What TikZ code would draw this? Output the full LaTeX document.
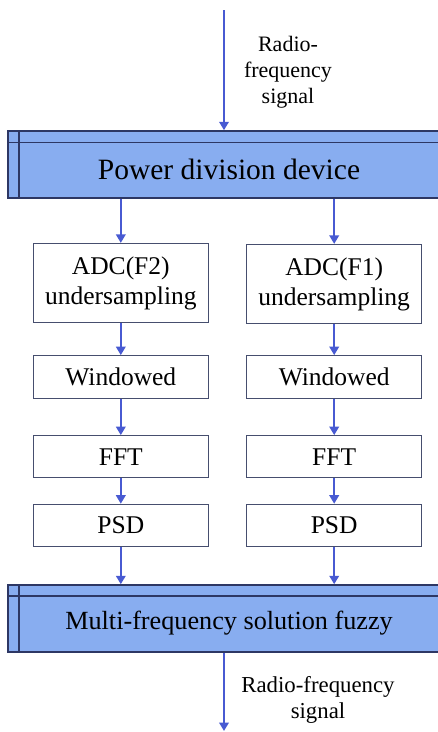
\documentclass[tikz,border=0pt]{standalone}
\usepackage{fontspec}
\setmainfont{Liberation Serif}
\usetikzlibrary{arrows.meta}
\definecolor{flowblue}{RGB}{72,90,210}
\definecolor{barfill}{RGB}{136,173,240}
\definecolor{barline}{RGB}{45,55,100}
\definecolor{boxline}{RGB}{70,78,110}
\tikzset{
  flow/.style={draw=flowblue, line width=2pt, -{Triangle[width=9.5pt,length=8.5pt]}},
  stepbox/.style={draw=boxline, line width=1.2pt, fill=white, minimum width=175pt,
    inner sep=0pt, align=center, font=\fontsize{25.5}{30}\selectfont},
  bar/.style={draw=barline, line width=1.5pt, fill=barfill, minimum width=442pt,
    minimum height=67pt, inner sep=0pt},
  sidelabel/.style={align=center}
}
\begin{document}
\begin{tikzpicture}[x=1pt,y=-1pt]
\useasboundingbox (0,0) rectangle (438,732);
\clip (0,0) rectangle (438,732);

% input signal
\coordinate (in) at (224,10);
\node[sidelabel, font=\fontsize{22}{26}\selectfont] (inlabel) at (288,72) {Radio-\\frequency\\signal};

% power division bar
\node[bar] (power) at (229,164.5) {};
\draw[barline, line width=1.5pt] (power.north west) ++(0,12) -- ++(442,0);
\draw[barline, line width=1.5pt] (power.north west) ++(11.5,0) -- ++(0,67);
\node[font=\fontsize{29.5}{32}\selectfont] (powertext) at (229,169) {Power division device};

% left branch (F2)
\node[stepbox, minimum height=79pt] (adcL) at (120.8,283) {ADC(F2)\\undersampling};
\node[stepbox, minimum height=42.5pt] (winL) at (120.8,377) {Windowed};
\node[stepbox, minimum height=42pt] (fftL) at (120.8,456.7) {FFT};
\node[stepbox, minimum height=42.4pt] (psdL) at (120.8,525.5) {PSD};

% right branch (F1)
\node[stepbox, minimum height=79pt] (adcR) at (334.2,284) {ADC(F1)\\undersampling};
\node[stepbox, minimum height=42.5pt] (winR) at (334.2,377) {Windowed};
\node[stepbox, minimum height=42pt] (fftR) at (334.2,456.7) {FFT};
\node[stepbox, minimum height=42.4pt] (psdR) at (334.2,525.5) {PSD};

% fusion bar
\node[bar] (fuzzy) at (229,618.5) {};
\draw[barline, line width=1.5pt] (fuzzy.north west) ++(0,11.5) -- ++(442,0);
\draw[barline, line width=1.5pt] (fuzzy.north west) ++(11.5,0) -- ++(0,67);
\node[font=\fontsize{26.2}{30}\selectfont] (fuzzytext) at (229,623) {Multi-frequency solution fuzzy};

% output signal
\coordinate (out) at (224,731);
\node[sidelabel, font=\fontsize{22.8}{26}\selectfont] (outlabel) at (318,700) {Radio-frequency\\signal};

% connectors
\draw[flow] (in) -- (in |- power.north);
\draw[flow] (adcL |- power.south) -- (adcL);
\draw[flow] (adcR |- power.south) -- (adcR);
\draw[flow] (adcL) -- (winL);
\draw[flow] (adcR) -- (winR);
\draw[flow] (winL) -- (fftL);
\draw[flow] (winR) -- (fftR);
\draw[flow] (fftL) -- (psdL);
\draw[flow] (fftR) -- (psdR);
\draw[flow] (psdL) -- (psdL |- fuzzy.north);
\draw[flow] (psdR) -- (psdR |- fuzzy.north);
\draw[flow] (out |- fuzzy.south) -- (out);
\end{tikzpicture}
\end{document}
